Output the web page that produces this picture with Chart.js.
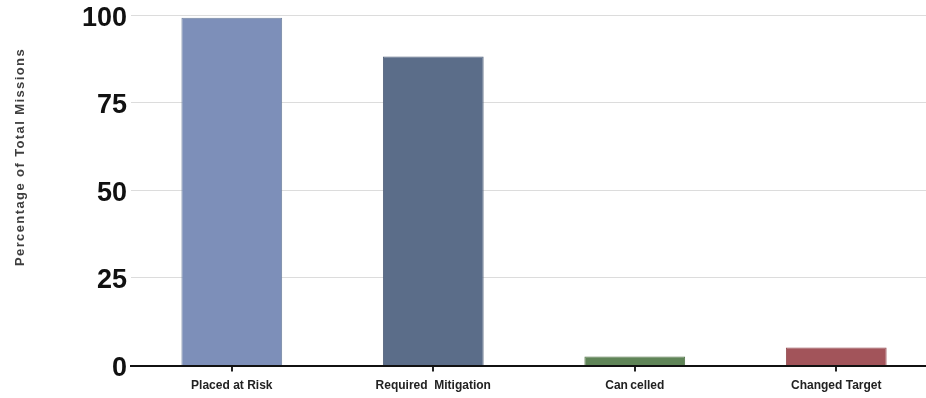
<!DOCTYPE html>
<html>
<head>
<meta charset="utf-8">
<script src="https://cdn.jsdelivr.net/npm/chart.js@4"></script>
<style>
  html, body { margin: 0; padding: 0; background: #fff; overflow: hidden; }
  #wrap { position: relative; width: 937px; height: 407px; margin-top: -5px; }
</style>
</head>
<body>
<div id="wrap"><canvas id="c"></canvas></div>
<script>
const categories = ['Placed at Risk', 'Required  Mitigation', 'Can\u2009celled', 'Changed Target'];
const percentValues = [99.3, 88.2, 2.6, 5.2];
const yTicks = [0, 25, 50, 75, 100];
const barColors = ['#7d8fb9', '#5b6d89', '#5f8457', '#a2545a'];
const barEdges = ['#71829f', '#52627b', '#557649', '#924a50'];
const axisTitle = 'Percentage of Total Missions';

// Rotated axis caption drawn at the left margin.
const sideTitle = {
  id: 'sideTitle',
  afterDraw(chart) {
    const ctx = chart.ctx;
    ctx.save();
    ctx.translate(20, 162);
    ctx.rotate(-Math.PI / 2);
    ctx.font = 'bold 13px "Liberation Sans", Arial, sans-serif';
    if ('letterSpacing' in ctx) ctx.letterSpacing = '1.4px';
    ctx.fillStyle = '#3e3e3e';
    ctx.textAlign = 'center';
    ctx.textBaseline = 'middle';
    ctx.fillText(axisTitle, 0, 0);
    ctx.restore();
  }
};

new Chart(document.getElementById('c'), {
  type: 'bar',
  data: {
    labels: categories,
    datasets: [{
      data: percentValues,
      backgroundColor: barColors,
      borderColor: barEdges,
      borderWidth: 1,
      categoryPercentage: 1,
      barPercentage: 0.5
    }]
  },
  plugins: [sideTitle],
  options: {
    responsive: true,
    maintainAspectRatio: false,
    animation: false,
    layout: { padding: { left: 78, right: 0, top: 2, bottom: 2 } },
    plugins: { legend: { display: false }, tooltip: { enabled: false } },
    scales: {
      x: {
        grid: {
          display: true,
          drawOnChartArea: false,
          drawTicks: true,
          tickLength: 6,
          color: '#222',
          lineWidth: 2,
          offset: false
        },
        border: { display: true, color: '#111', width: 2 },
        ticks: {
          color: '#222',
          padding: 7,
          font: { family: '"Liberation Sans", Arial, sans-serif', size: 12, weight: 'bold' }
        }
      },
      y: {
        min: 0,
        max: 100,
        afterBuildTicks(axis) { axis.ticks = yTicks.map(v => ({ value: v })); },
        grid: { color: '#dcdcdc', lineWidth: 1, drawTicks: false },
        border: { display: false },
        ticks: {
          color: '#111',
          padding: 4,
          labelOffset: 3,
          font: { family: '"Liberation Sans", Arial, sans-serif', size: 27, weight: 'bold' }
        }
      }
    }
  }
});
</script>
</body>
</html>
